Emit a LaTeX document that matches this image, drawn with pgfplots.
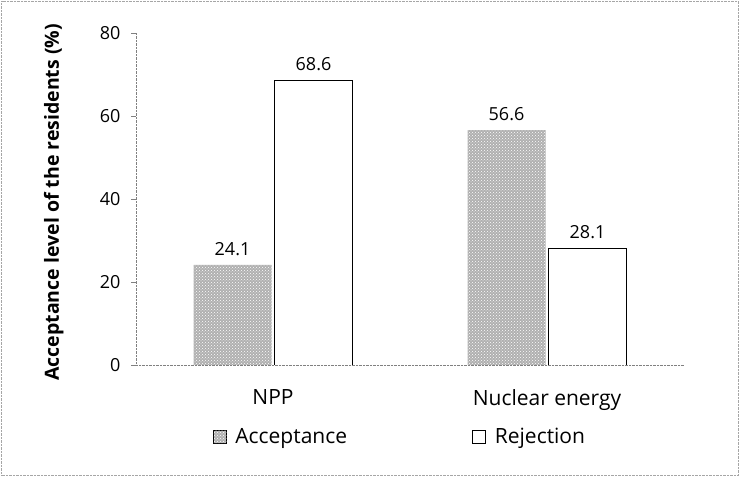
\documentclass[border=0pt]{standalone}
\usepackage{pgfplots}
\pgfplotsset{compat=1.18}
\usepackage{fontspec}
\setmainfont{Open Sans}
\usetikzlibrary{patterns}

\begin{document}
\begin{tikzpicture}[x=1pt,y=1pt]
\useasboundingbox (0,0) rectangle (740,482);
\draw[gray!70, densely dotted] (1.5,7) rectangle (738.5,480.5);
\begin{axis}[
  at={(136pt,117pt)}, anchor=south west,
  scale only axis, width=548pt, height=332pt,
  ybar=3pt, bar width=78pt,
  xmin=-0.5, xmax=1.5, ymin=0, ymax=80,
  xtick={0,1}, xticklabels={NPP, Nuclear energy},
  ytick={0,20,40,60,80},
  axis x line*=bottom, axis y line*=left,
  axis line style={-, gray, densely dotted},
  x tick style={draw=none},
  y tick style={gray, thin},
  tick align=outside, major tick length=5pt,
  /pgf/number format/assume math mode=true,
  yticklabel style={font=\fontsize{18}{21}\selectfont, xshift=-7pt},
  xticklabel style={font=\fontsize{21}{24}\selectfont, yshift=-16pt},
  ylabel={Acceptance level of the residents (\%)},
  ylabel style={font=\bfseries\fontsize{19.5}{23}\selectfont, at={(axis description cs:-0.15,0.49)}, anchor=center},
  nodes near coords={\pgfmathprintnumber[fixed,fixed zerofill,precision=1]{\pgfplotspointmeta}},
  every node near coord/.append style={font=\fontsize{18}{21}\selectfont, black, yshift=6pt},
  legend style={at={(axis description cs:0.482,-0.217)}, anchor=center, draw=none,
    font=\fontsize{21}{24}\selectfont,
    /tikz/every even column/.append style={column sep=123pt}},
  legend columns=2,
  legend image code/.code={\draw[#1] (0pt,-6.5pt) rectangle (13pt,6.5pt); \path (20pt,0pt);},
]
\addplot[fill=gray!62, draw=none, postaction={pattern=crosshatch dots, pattern color=white}]
  coordinates {(0,24.1) (1,56.6)};
\addplot[fill=white, draw=black, line width=0.8pt]
  coordinates {(0,68.6) (1,28.1)};
\legend{Acceptance, Rejection}
\end{axis}
\end{tikzpicture}
\end{document}
